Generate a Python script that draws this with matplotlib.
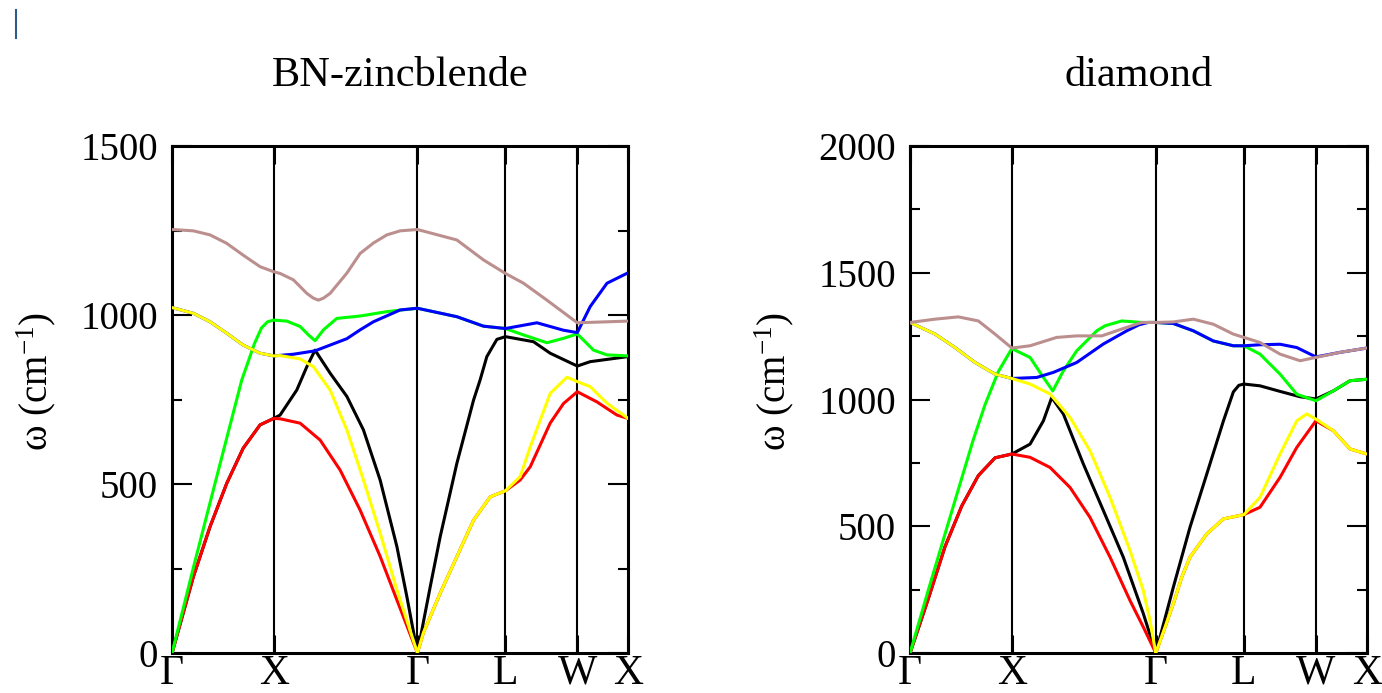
import matplotlib
matplotlib.use('Agg')
import matplotlib.pyplot as plt
from matplotlib.ticker import MultipleLocator
from matplotlib.lines import Line2D

plt.rcParams['font.family'] = ['Liberation Serif', 'DejaVu Serif']
plt.rcParams['mathtext.fontset'] = 'custom'
plt.rcParams['mathtext.rm'] = 'Liberation Serif'
plt.rcParams['mathtext.default'] = 'regular'

# caminho Γ-X-Γ-L-W-X (distancia em 2π/a)
k_pontos = [0.0, 1.0, 2.414, 3.280, 3.987, 4.487]
k_rotulos = ['Γ', 'X', 'Γ', 'L', 'W', 'X']

# BN-zincblende, ramos (k, ω em cm-1)
bn_red = [(0, 0), (0.21, 226), (0.374, 374), (0.538, 502), (0.70, 606), (0.866, 675), (1.0, 694),
          (1.063, 693), (1.26, 680), (1.457, 630), (1.654, 541), (1.85, 423), (2.047, 286), (2.212, 157), (2.414, 0),
          (2.473, 60), (2.638, 177), (2.802, 285), (2.966, 393), (3.13, 462), (3.28, 480),
          (3.425, 512), (3.524, 551), (3.72, 680), (3.851, 738), (3.987, 773),
          (4.18, 743), (4.377, 704), (4.487, 694)]
bn_yellow = [(0, 1022), (0.21, 1005), (0.374, 980), (0.538, 946), (0.70, 911), (0.866, 887), (1.0, 879),
             (1.063, 880), (1.26, 870), (1.391, 847), (1.555, 778), (1.72, 660), (1.883, 512), (2.047, 355),
             (2.212, 187), (2.414, 0),
             (2.473, 60), (2.638, 177), (2.802, 285), (2.966, 393), (3.13, 462), (3.28, 480),
             (3.425, 522), (3.524, 610), (3.72, 768), (3.885, 816), (3.987, 803),
             (4.114, 788), (4.279, 739), (4.487, 694)]
bn_black = [(0, 0), (0.21, 226), (0.374, 374), (0.538, 502), (0.70, 606), (0.866, 675), (1.0, 694),
            (1.063, 704), (1.227, 778), (1.326, 847), (1.407, 896), (1.555, 828), (1.72, 759), (1.883, 660),
            (2.047, 512), (2.212, 315), (2.31, 167), (2.414, 0),
            (2.54, 196), (2.638, 344), (2.802, 561), (2.966, 748), (3.031, 808), (3.097, 877), (3.196, 928),
            (3.28, 936), (3.556, 921), (3.72, 887), (3.987, 849),
            (4.114, 862), (4.487, 877)]
bn_green = [(0, 0), (0.21, 253), (0.374, 445), (0.538, 636), (0.686, 808), (0.735, 850), (0.81, 915),
            (0.88, 962), (0.94, 980), (1.0, 985),
            (1.129, 982), (1.26, 966), (1.342, 941), (1.407, 924), (1.489, 956), (1.621, 990), (1.85, 997),
            (2.113, 1010), (2.414, 1020),
            (2.802, 995), (3.064, 967), (3.28, 960),
            (3.458, 941), (3.688, 918), (3.851, 931), (3.987, 944),
            (4.147, 896), (4.279, 882), (4.487, 879)]
bn_blue = [(0, 1022), (0.21, 1005), (0.374, 980), (0.538, 946), (0.70, 911), (0.866, 887), (1.0, 879),
           (1.194, 884), (1.407, 894), (1.72, 930), (1.85, 956), (1.981, 980), (2.244, 1015), (2.414, 1020),
           (2.802, 995), (3.064, 967), (3.28, 960),
           (3.59, 977), (3.851, 955), (3.987, 948),
           (4.114, 1025), (4.279, 1094), (4.487, 1125)]
bn_brown = [(0, 1253), (0.21, 1249), (0.374, 1237), (0.538, 1212), (0.70, 1177), (0.866, 1143), (1.0, 1128),
            (1.063, 1123), (1.194, 1104), (1.326, 1064), (1.39, 1050), (1.44, 1044), (1.49, 1050),
            (1.555, 1064), (1.72, 1124), (1.85, 1182), (1.981, 1213), (2.113, 1237), (2.244, 1249),
            (2.414, 1253),
            (2.802, 1222), (3.064, 1163), (3.28, 1123),
            (3.458, 1094), (3.688, 1044), (3.987, 977),
            (4.487, 982)]

# diamond
dia_red = [(0, 0), (0.18, 215), (0.344, 420), (0.508, 580), (0.671, 700), (0.835, 770), (1.0, 785),
           (1.179, 772), (1.375, 732), (1.572, 653), (1.768, 535), (1.965, 378), (2.161, 207), (2.292, 102),
           (2.414, 0),
           (2.505, 102), (2.586, 194), (2.669, 299), (2.75, 378), (2.915, 470), (3.078, 529), (3.28, 546),
           (3.438, 575), (3.635, 693), (3.799, 811), (3.987, 916),
           (4.158, 877), (4.322, 805), (4.487, 785)]
dia_yellow = [(0, 1304), (0.246, 1258), (0.442, 1205), (0.639, 1146), (0.835, 1100), (1.0, 1083),
              (1.179, 1061), (1.375, 1022), (1.572, 929), (1.768, 798), (1.965, 614), (2.161, 404),
              (2.292, 246), (2.357, 128), (2.414, 0),
              (2.505, 102), (2.586, 194), (2.669, 299), (2.75, 378), (2.915, 470), (3.078, 529), (3.28, 546),
              (3.438, 614), (3.635, 785), (3.799, 916), (3.897, 943), (3.987, 923),
              (4.158, 877), (4.322, 805), (4.487, 785)]
dia_black = [(0, 0), (0.18, 215), (0.344, 420), (0.508, 580), (0.671, 700), (0.835, 770), (1.0, 785),
             (1.179, 824), (1.31, 916), (1.392, 1008), (1.506, 943), (1.702, 746), (1.899, 562), (2.095, 378),
             (2.292, 155), (2.414, 0),
             (2.586, 259), (2.75, 496), (2.915, 706), (3.078, 915), (3.176, 1030), (3.23, 1056), (3.28, 1061),
             (3.438, 1054), (3.635, 1032), (3.831, 1011), (3.987, 1002),
             (4.158, 1034), (4.322, 1074), (4.487, 1080)]
dia_green = [(0, 0), (0.18, 249), (0.344, 470), (0.508, 690), (0.62, 840), (0.737, 980), (0.867, 1110),
             (1.0, 1201),
             (1.179, 1166), (1.31, 1087), (1.402, 1034), (1.506, 1113), (1.637, 1192), (1.834, 1271),
             (1.916, 1291), (2.08, 1310), (2.276, 1304), (2.414, 1304),
             (2.586, 1300), (2.783, 1271), (2.979, 1231), (3.176, 1212), (3.28, 1212),
             (3.438, 1179), (3.635, 1100), (3.799, 1021), (3.987, 995),
             (4.158, 1034), (4.322, 1074), (4.487, 1080)]
dia_blue = [(0, 1304), (0.246, 1258), (0.442, 1205), (0.639, 1146), (0.835, 1100), (1.0, 1083),
            (1.244, 1087), (1.408, 1107), (1.637, 1146), (1.899, 1219), (2.129, 1271), (2.25, 1295),
            (2.341, 1304), (2.414, 1304),
            (2.586, 1300), (2.783, 1271), (2.979, 1231), (3.176, 1212), (3.28, 1212),
            (3.438, 1216), (3.635, 1218), (3.799, 1205), (3.987, 1168),
            (4.224, 1186), (4.487, 1203)]
dia_brown = [(0, 1304), (0.246, 1317), (0.474, 1326), (0.671, 1310), (0.835, 1258), (1.0, 1203),
             (1.179, 1212), (1.44, 1245), (1.637, 1251), (1.883, 1251), (2.08, 1278), (2.276, 1304),
             (2.414, 1304),
             (2.586, 1306), (2.783, 1317), (2.979, 1297), (3.176, 1258), (3.28, 1245),
             (3.438, 1225), (3.635, 1179), (3.831, 1153), (3.987, 1166),
             (4.224, 1186), (4.487, 1203)]

# ordem de desenho (o ultimo fica por cima)
cores = ['black', 'red', '#00ff00', 'blue', 'yellow', '#bc8f8f']


def desenhar_painel(ax, ramos, titulo, ymax):
    for ramo, cor in zip(ramos, cores):
        ks = [p[0] for p in ramo]
        ws = [p[1] for p in ramo]
        ax.plot(ks, ws, color=cor, lw=2.2, solid_joinstyle='round', solid_capstyle='round', zorder=3)
    for k in k_pontos[1:-1]:
        ax.axvline(k, color='black', lw=1.5, zorder=2)
    ax.set_xlim(k_pontos[0], k_pontos[-1])
    ax.set_ylim(0, ymax)
    ax.set_xticks(k_pontos)
    ax.set_xticklabels(k_rotulos)
    ax.yaxis.set_major_locator(MultipleLocator(500))
    ax.yaxis.set_minor_locator(MultipleLocator(250))
    ax.tick_params(axis='x', direction='in', top=True, length=13, width=2.2, pad=1, labelsize=30)
    ax.tick_params(axis='y', which='major', direction='in', right=True, length=14.4, width=1.5,
                   pad=10, labelsize=28)
    ax.tick_params(axis='y', which='minor', direction='in', right=True, length=7.2, width=1.5)
    for s in ax.spines.values():
        s.set_linewidth(2.2)
    ax.set_title(titulo, fontsize=30.5, pad=43)
    ax.set_ylabel('ω (cm$^{-1}$)', fontsize=28)
    ax.yaxis.set_label_coords(-0.25, 0.535)


fig = plt.figure(figsize=(13.82, 6.93), dpi=100)
ax1 = fig.add_axes([0.1245, 0.0577, 0.330, 0.7316])
ax2 = fig.add_axes([0.6585, 0.0577, 0.3305, 0.7316])

desenhar_painel(ax1, [bn_black, bn_red, bn_green, bn_blue, bn_yellow, bn_brown], 'BN-zincblende', 1500)
desenhar_painel(ax2, [dia_black, dia_red, dia_green, dia_blue, dia_yellow, dia_brown], 'diamond', 2000)

# pequeno cursor azul no canto
fig.add_artist(Line2D([16 / 1382, 16 / 1382], [1 - 10 / 693, 1 - 38 / 693], color='#2d5b8c', lw=1.5))

fig.savefig('out.png', dpi=100)
plt.close()
